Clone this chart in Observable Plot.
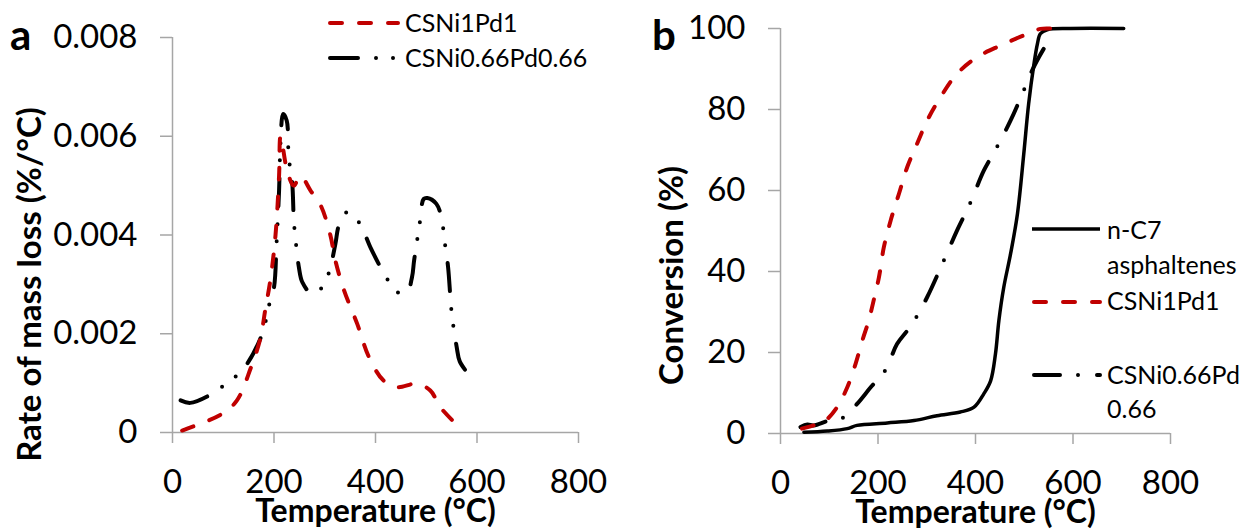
<!DOCTYPE html>
<html>
<head>
<meta charset="utf-8">
<script src="https://cdn.jsdelivr.net/npm/d3@7"></script>
<script src="https://cdn.jsdelivr.net/npm/@observablehq/plot@0.6"></script>
<style>
  html, body { margin: 0; padding: 0; background: #fff; }
  #wrap { position: relative; width: 1253px; height: 529px; overflow: hidden; font-family: Lato, sans-serif; }
  #wrap > div.panel { position: absolute; top: 0; }
  #overlay { position: absolute; left: 0; top: 0; pointer-events: none; }
</style>
</head>
<body>
<div id="wrap">
  <div class="panel" id="pa" style="left:0"></div>
  <div class="panel" id="pb" style="left:620px"></div>
</div>
<script>
// ---------- Data ----------
// Panel a: rate of mass loss (%/°C) vs temperature (°C)
const tempA_Ni1Pd1 = [19, 98, 127, 154, 173, 183, 193, 203, 210, 213, 226, 239, 252, 272, 292, 311, 321, 338, 364, 387, 416, 443, 482, 508, 528, 558];
const rateA_Ni1Pd1 = [0.00004, 0.00038, 0.00065, 0.0013, 0.0019, 0.0025, 0.0031, 0.0040, 0.0052, 0.0060, 0.0053, 0.0050, 0.0052, 0.0049, 0.0046, 0.0040, 0.00348, 0.00288, 0.0022, 0.00153, 0.00105, 0.00092, 0.00099, 0.00085, 0.00051, 0.00018];

const tempA_Ni066 = [16, 35, 72, 98, 124, 147, 173, 183, 190, 200, 205, 210, 213, 218, 225, 229, 236, 239, 242, 249, 256, 275, 298, 311, 321, 328, 344, 367, 390, 406, 423, 443, 462, 472, 476, 481, 487, 495, 502, 520, 531, 535, 543, 548, 551, 560, 566, 584];
const rateA_Ni066 = [0.00065, 0.0006, 0.00075, 0.00093, 0.00113, 0.00139, 0.0019, 0.00223, 0.00257, 0.00294, 0.00382, 0.0049, 0.0059, 0.00645, 0.00632, 0.00558, 0.00504, 0.0043, 0.00396, 0.00335, 0.00304, 0.00281, 0.00298, 0.00335, 0.00382, 0.0042, 0.00446, 0.00426, 0.00375, 0.00342, 0.00311, 0.00284, 0.00284, 0.00315, 0.00348, 0.00382, 0.00423, 0.00473, 0.00475, 0.00463, 0.0043, 0.00396, 0.00335, 0.00267, 0.00234, 0.00173, 0.00144, 0.00117];

// Panel b: conversion (%) vs temperature (°C)
const tempB_C7 = [48, 96, 137, 157, 219, 274, 321, 369, 397, 417, 431, 441, 448, 458, 472, 486, 499, 509, 520, 527, 533, 547, 595, 704];
const convB_C7 = [0.3, 0.6, 1.2, 2.0, 2.6, 3.2, 4.4, 5.3, 6.5, 9.8, 13, 19.7, 27.9, 36.1, 44.4, 54.2, 69, 81.4, 91.3, 96.2, 98.7, 99.7, 100, 100];

const tempB_Ni1Pd1 = [44, 68, 92, 116, 137, 154, 168, 181, 191, 202, 212, 226, 243, 260, 280, 301, 328, 362, 403, 451, 499, 533, 553];
const convB_Ni1Pd1 = [1.2, 2.0, 3.2, 6.5, 11.4, 17.2, 23, 27.9, 32.8, 38.6, 46, 52.6, 59.2, 65.8, 71.5, 77.3, 83, 88.8, 92.9, 95.8, 98.3, 99.9, 100];

const tempB_Ni066 = [41, 55, 68, 99, 130, 157, 185, 215, 239, 260, 280, 301, 335, 362, 390, 417, 444, 472, 499, 516, 530, 540, 557];
const convB_Ni066 = [1.6, 2.2, 2.0, 3.2, 4.0, 7.3, 11.4, 15.6, 22.1, 25.4, 29, 33.7, 42.7, 50.1, 57.1, 64.9, 70.7, 77.3, 84.7, 89.6, 92.9, 95, 98.3];

// Ticks and labels
const xTicks = [0, 200, 400, 600, 800];
const xTickLabels = ["0", "200", "400", "600", "800"];
const yTicksA = [0, 0.002, 0.004, 0.006, 0.008];
const yTickLabelsA = ["0", "0.002", "0.004", "0.006", "0.008"];
const yTicksB = [0, 20, 40, 60, 80, 100];
const yTickLabelsB = ["0", "20", "40", "60", "80", "100"];

const seriesNames = ["n-C7 asphaltenes", "CSNi1Pd1", "CSNi0.66Pd0.66"];
const xTitle = "Temperature (°C)";
const yTitleA = "Rate of mass loss (%/°C)";
const yTitleB = "Conversion (%)";

// ---------- Styles ----------
const RED = "#c00000";
const GREY = "#a6a6a6";
const FONT = "Lato, sans-serif";
const DASH_RED = "12,17";
const DASH_A = "28,18,0,17,0,18";
const DASH_B = "26,18,0,19";

const toRows = (xs, ys) => xs.map((x, i) => ({x, y: ys[i]}));
const fmt = (ticks, labels) => d => labels[ticks.findIndex(t => Math.abs(t - d) < 1e-12)];

function axes(yTicks, yLabels) {
  return [
    Plot.ruleY([0], {stroke: GREY, strokeWidth: 1.5}),
    Plot.ruleX([0], {stroke: GREY, strokeWidth: 1.5}),
    Plot.axisX({ticks: xTicks, tickFormat: fmt(xTicks, xTickLabels), tickSize: 11, tickPadding: 26,
      fontSize: 33, stroke: GREY, strokeWidth: 1.5, fill: "black", label: null}),
    Plot.axisY({ticks: yTicks, tickFormat: fmt(yTicks, yLabels), tickSize: 12, tickPadding: 23,
      fontSize: 33, stroke: GREY, strokeWidth: 1.5, fill: "black", label: null})
  ];
}

// ---------- Panel a ----------
const plotA = Plot.plot({
  width: 620, height: 529,
  marginLeft: 172, marginRight: 42, marginTop: 37, marginBottom: 97,
  x: {domain: [0, 800]},
  y: {domain: [0, 0.008]},
  style: {fontFamily: FONT, background: "transparent", overflow: "visible"},
  marks: [
    ...axes(yTicksA, yTickLabelsA),
    Plot.line(toRows(tempA_Ni066, rateA_Ni066), {x: "x", y: "y", stroke: "black", strokeWidth: 4,
      strokeDasharray: DASH_A, strokeLinecap: "round", curve: "catmull-rom"}),
    Plot.line(toRows(tempA_Ni1Pd1, rateA_Ni1Pd1), {x: "x", y: "y", stroke: RED, strokeWidth: 4,
      strokeDasharray: DASH_RED, strokeLinecap: "round", curve: "catmull-rom"}),
    Plot.text([xTitle], {text: d => d, frameAnchor: "bottom", dy: 79, lineAnchor: "middle",
      fontSize: 32, fontWeight: "bold", fill: "black"}),
    Plot.text([yTitleA], {text: d => d, frameAnchor: "left", dx: -142, dy: 49.5, rotate: -90,
      lineAnchor: "middle", textAnchor: "middle", fontSize: 33, fontWeight: "bold", fill: "black"})
  ]
});
document.getElementById("pa").appendChild(plotA);

// ---------- Panel b ----------
const plotB = Plot.plot({
  width: 633, height: 529,
  marginLeft: 160, marginRight: 83, marginTop: 28, marginBottom: 96,
  x: {domain: [0, 800]},
  y: {domain: [0, 100]},
  style: {fontFamily: FONT, background: "transparent", overflow: "visible"},
  marks: [
    ...axes(yTicksB, yTickLabelsB),
    Plot.line(toRows(tempB_C7, convB_C7), {x: "x", y: "y", stroke: "black", strokeWidth: 3.5, curve: "catmull-rom"}),
    Plot.line(toRows(tempB_Ni066, convB_Ni066), {x: "x", y: "y", stroke: "black", strokeWidth: 4,
      strokeDasharray: DASH_B, strokeLinecap: "round", curve: "catmull-rom"}),
    Plot.line(toRows(tempB_Ni1Pd1, convB_Ni1Pd1), {x: "x", y: "y", stroke: RED, strokeWidth: 4,
      strokeDasharray: DASH_RED, strokeLinecap: "round", curve: "catmull-rom"}),
    Plot.text([xTitle], {text: d => d, frameAnchor: "bottom", dy: 79, lineAnchor: "middle",
      fontSize: 32, fontWeight: "bold", fill: "black"}),
    Plot.text([yTitleB], {text: d => d, frameAnchor: "left", dx: -108, dy: 44.5, rotate: -90,
      lineAnchor: "middle", textAnchor: "middle", fontSize: 33, fontWeight: "bold", fill: "black"})
  ]
});
document.getElementById("pb").appendChild(plotB);

// ---------- Panel letters & legends (overlay) ----------
const NS = "http://www.w3.org/2000/svg";
const ov = document.createElementNS(NS, "svg");
ov.setAttribute("id", "overlay");
ov.setAttribute("width", 1253);
ov.setAttribute("height", 529);
document.getElementById("wrap").appendChild(ov);

function txt(x, y, s, size, weight) {
  const t = document.createElementNS(NS, "text");
  t.setAttribute("x", x); t.setAttribute("y", y);
  t.setAttribute("font-family", FONT);
  t.setAttribute("font-size", size);
  if (weight) t.setAttribute("font-weight", weight);
  t.textContent = s;
  ov.appendChild(t);
}
function swatch(x1, x2, y, color, dash, width) {
  const l = document.createElementNS(NS, "line");
  l.setAttribute("x1", x1); l.setAttribute("x2", x2);
  l.setAttribute("y1", y); l.setAttribute("y2", y);
  l.setAttribute("stroke", color);
  l.setAttribute("stroke-width", width || 4);
  if (dash) { l.setAttribute("stroke-dasharray", dash); l.setAttribute("stroke-linecap", "round"); }
  ov.appendChild(l);
}

txt(10, 50, "a", 42, "bold");
txt(652, 50, "b", 42, "bold");

// legend a
swatch(330, 398, 23, RED, DASH_RED);
txt(405, 32, seriesNames[1], 25);
swatch(330, 398, 58, "black", DASH_A);
txt(405, 67, seriesNames[2], 25);

// legend b
swatch(1032, 1100, 229, "black", null, 3.5);
txt(1107, 239, "n-C7", 25);
txt(1107, 274, "asphaltenes", 25);
swatch(1034, 1100, 302, RED, DASH_RED);
txt(1107, 310, seriesNames[1], 25);
swatch(1034, 1100, 375, "black", DASH_B);
txt(1107, 384, "CSNi0.66Pd", 25);
txt(1107, 418, "0.66", 25);
</script>
</body>
</html>
